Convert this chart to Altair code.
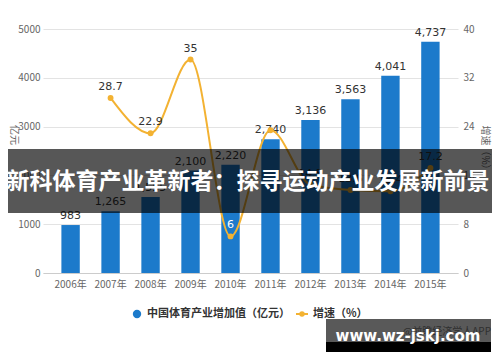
import altair as alt
import pandas as pd

years = ["2006年", "2007年", "2008年", "2009年", "2010年",
         "2011年", "2012年", "2013年", "2014年", "2015年"]
added_value = [983, 1265, 1555, 2100, 2220, 2740, 3136, 3563, 4041, 4737]
growth = [None, 28.7, 22.9, 35, 6, 23.4, 14.5, 13.6, 13.4, 17.2]
growth_labels = ["", "28.7", "22.9", "35", "6", "", "14.5", "13.6", "13.4", "17.2"]
left_ticks = [0, 1000, 2000, 3000, 4000, 5000]
right_ticks = [0, 8, 16, 24, 32, 40]

series_names = ["中国体育产业增加值（亿元）", "增速（%）"]
left_title = "亿元"
right_title = "增速（%）"
banner_text = "新科体育产业革新者：探寻运动产业发展新前景"
site_text = "www.wz-jskj.com"
source_text = "@前瞻经济学人APP"

BLUE = "#1c7acb"
ORANGE = "#f3b232"
FONT = "Noto Sans CJK SC"

df = pd.DataFrame({"year": years, "value": added_value, "growth": growth,
                   "glabel": growth_labels})
df["vlabel"] = [f"{v:,}" for v in added_value]

x = alt.X("year:N", sort=years,
          scale=alt.Scale(domain=years, paddingInner=0.54, paddingOuter=0.46),
          axis=alt.Axis(title=None, labelAngle=0, labelFont=FONT, labelFontSize=10,
                        labelColor="#666", labelPadding=6, ticks=False,
                        domainColor="#cccccc", grid=False))

base = alt.Chart(df)
ly = alt.Y("value:Q", scale=alt.Scale(domain=[0, 5000], nice=False),
           axis=alt.Axis(values=left_ticks, format="d", title=None, orient="left",
                         domain=False, ticks=False, labelPadding=3, labelFont=FONT,
                         labelFontSize=10, labelColor="#666", grid=True,
                         gridColor="#e3e3e3"))
bars = base.mark_bar(color=BLUE).encode(x=x, y=ly)
bar_text = base.mark_text(baseline="bottom", dy=-4, font="DejaVu Sans", fontSize=11,
                          color="#333").encode(x=x, y=alt.Y("value:Q"), text="vlabel:N")
left = alt.layer(bars, bar_text)

gy = alt.Y("growth:Q", scale=alt.Scale(domain=[0, 40], nice=False),
           axis=alt.Axis(values=right_ticks, format="d", title=None, orient="right",
                         domain=False, ticks=False, grid=False, labelPadding=5,
                         labelFont=FONT, labelFontSize=10, labelColor="#666"))
gbase = base.transform_filter("datum.growth != null")
line = gbase.mark_line(interpolate="monotone", color=ORANGE, strokeWidth=2).encode(x=x, y=gy)
pts = gbase.mark_circle(color=ORANGE, size=35, opacity=1).encode(x=x, y=alt.Y("growth:Q"))
gtext = gbase.mark_text(baseline="middle", dy=-11, font="DejaVu Sans", fontSize=11).encode(
    x=x, y=alt.Y("growth:Q"), text="glabel:N",
    color=alt.condition("datum.growth < 10", alt.value("white"), alt.value("#333")))
right = alt.layer(line, pts, gtext)

one = alt.Chart(pd.DataFrame({"a": [0]}))

title_l = one.mark_text(font=FONT, fontSize=10, color="#666", angle=90).encode(
    x=alt.value(-29), y=alt.value(106), text=alt.value(left_title))
title_r = one.mark_text(font=FONT, fontSize=10, color="#666", angle=90).encode(
    x=alt.value(442), y=alt.value(121), text=alt.value(right_title))

leg_dot = one.mark_circle(color=BLUE, size=70, opacity=1).encode(
    x=alt.value(94), y=alt.value(285))
leg_t1 = one.mark_text(font=FONT, fontSize=11, fontWeight="bold", color="#333",
                       align="left", baseline="middle").encode(
    x=alt.value(104), y=alt.value(285), text=alt.value(series_names[0]))
leg_line = one.mark_rule(color=ORANGE, strokeWidth=2).encode(
    x=alt.value(253), x2=alt.value(265), y=alt.value(285))
leg_pt = one.mark_circle(color=ORANGE, size=30, opacity=1).encode(
    x=alt.value(259), y=alt.value(285))
leg_t2 = one.mark_text(font=FONT, fontSize=11, fontWeight="bold", color="#333",
                       align="left", baseline="middle").encode(
    x=alt.value(270), y=alt.value(285), text=alt.value(series_names[1]))

band = one.mark_rect(color="black", opacity=0.66).encode(
    x=alt.value(-35), x2=alt.value(449), y=alt.value(120), y2=alt.value(184))
band_t = one.mark_text(font=FONT, fontSize=23, fontWeight="bold", color="white",
                       align="center", baseline="middle").encode(
    x=alt.value(205), y=alt.value(153), text=alt.value(banner_text))

src_t = one.mark_text(font=FONT, fontSize=10, color="#888", align="right",
                      baseline="middle").encode(
    x=alt.value(448), y=alt.value(303), text=alt.value(source_text))
wm_gray = one.mark_rect(color="black", opacity=0.65).encode(
    x=alt.value(283), x2=alt.value(448), y=alt.value(290), y2=alt.value(313))
wm_black = one.mark_rect(color="black", opacity=1).encode(
    x=alt.value(283), x2=alt.value(448), y=alt.value(313), y2=alt.value(323))
wm_t = one.mark_text(font="DejaVu Sans", fontSize=15, fontWeight="bold", color="white",
                     align="center", baseline="alphabetic").encode(
    x=alt.value(365), y=alt.value(312), text=alt.value(site_text))

chart = alt.layer(
    left, right, title_l, title_r, leg_dot, leg_t1, leg_line, leg_pt, leg_t2,
    band, band_t, src_t, wm_gray, wm_black, wm_t
).resolve_scale(y="independent").properties(
    width=415, height=244,
    padding={"left": 35, "top": 21, "right": 34, "bottom": 81},
    autosize=alt.AutoSizeParams(type="none"),
    background="white",
).configure_view(stroke=None)

chart.save("out.html", embed_options={"renderer": "svg", "actions": False})
